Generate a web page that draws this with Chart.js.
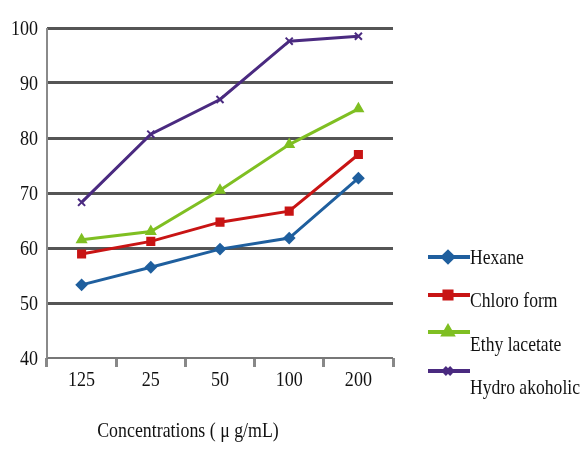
<!DOCTYPE html>
<html><head><meta charset="utf-8">
<script src="https://cdn.jsdelivr.net/npm/chart.js@4/dist/chart.umd.min.js"></script>
<style>html,body{margin:0;padding:0;background:#fff}#wrap{width:586px;height:449px}</style>
</head><body><div id="wrap"><canvas id="c" width="586" height="449"></canvas></div>
<script>
const categories = ["125", "25", "50", "100", "200"];
const hexane = [53.3, 56.5, 59.8, 61.8, 72.7];
const chloroform = [58.9, 61.2, 64.7, 66.7, 77.0];
const ethylAcetate = [61.5, 63.0, 70.5, 78.8, 85.3];
const hydroAlcoholic = [68.3, 80.7, 87.0, 97.6, 98.5];
const seriesNames = ["Hexane", "Chloro form", "Ethy lacetate", "Hydro akoholic"];
const yTicks = [40, 50, 60, 70, 80, 90, 100];
const xTitle = "Concentrations ( \u03bc g/mL)";

const colors = ["#1f5f9e", "#c81414", "#7fbf22", "#4a2a80"];
const markers = ["rectRot", "rect", "triangle", "crossRot"];
const values = [hexane, chloroform, ethylAcetate, hydroAlcoholic];
const FONT = '"Liberation Serif", "DejaVu Serif", serif';

function condText(ctx, txt, x, y, size, align, sx) {
  ctx.save();
  ctx.fillStyle = '#111';
  ctx.font = size + 'px ' + FONT;
  ctx.textBaseline = 'middle';
  ctx.textAlign = align;
  ctx.translate(x, y);
  ctx.scale(sx, 1);
  ctx.fillText(txt, 0, 0);
  ctx.restore();
}

const textPlugin = {
  id: 'texts',
  afterDraw(chart) {
    const ctx = chart.ctx;
    const xs = chart.scales.x, ys = chart.scales.y;
    // y tick labels
    ys.ticks.forEach(t => condText(ctx, String(t.value), 38, ys.getPixelForValue(t.value) + 1, 22, 'right', 0.82));
    // x tick labels
    categories.forEach((c, i) => condText(ctx, c, xs.getPixelForValue(i), 380, 22, 'center', 0.82));
    // axis title
    condText(ctx, xTitle, 188, 431, 21, 'center', 0.85);
    // legend
    const lineY = [257, 295, 332, 371];
    const textY = [258, 301, 345, 388];
    chart.data.datasets.forEach((ds, i) => {
      ctx.save();
      ctx.strokeStyle = ds.borderColor;
      ctx.lineWidth = 4;
      ctx.beginPath(); ctx.moveTo(428, lineY[i]); ctx.lineTo(470, lineY[i]); ctx.stroke();
      ctx.fillStyle = ds.borderColor;
      Chart.helpers.drawPoint(ctx, {pointStyle: ds.pointStyle, radius: 5, borderWidth: 2}, 448, lineY[i]);
      ctx.restore();
      condText(ctx, ds.label, 470, textY[i], 22, 'left', 0.8);
    });
  }
};

const yAxisLine = {
  id: 'yAxisLine',
  beforeDatasetsDraw(chart) {
    const {ctx, chartArea} = chart;
    ctx.save();
    ctx.strokeStyle = '#8a8a8a';
    ctx.lineWidth = 2;
    ctx.beginPath(); ctx.moveTo(chartArea.left, chartArea.top); ctx.lineTo(chartArea.left, chartArea.bottom); ctx.stroke();
    ctx.restore();
  }
};

new Chart(document.getElementById('c'), {
  type: 'line',
  data: {
    labels: categories,
    datasets: values.map((v, i) => ({
      label: seriesNames[i],
      data: v,
      borderColor: colors[i],
      backgroundColor: colors[i],
      borderWidth: 3,
      pointStyle: markers[i],
      pointRadius: 5,
      pointBorderWidth: 2,
      tension: 0
    }))
  },
  options: {
    responsive: false,
    animation: false,
    devicePixelRatio: 1,
    layout: {padding: {top: 28, right: 193, left: 0, bottom: 0}},
    plugins: {legend: {display: false}, tooltip: {enabled: false}},
    scales: {
      x: {
        offset: true,
        grid: {display: true, drawOnChartArea: false, drawTicks: true, tickLength: 9, color: '#888', lineWidth: 3, offset: true},
        border: {display: false},
        ticks: {display: false},
        afterFit(s) { s.height = 91; }
      },
      y: {
        min: 40, max: 100,
        afterBuildTicks(s) { s.ticks = yTicks.map(v => ({value: v})); },
        grid: {color: (c) => c.tick && c.tick.value === 40 ? '#777' : '#555', lineWidth: (c) => c.tick && c.tick.value === 40 ? 2 : 3, drawTicks: false},
        border: {display: false},
        ticks: {display: false},
        afterFit(s) { s.width = 47; }
      }
    }
  },
  plugins: [yAxisLine, textPlugin]
});
</script>
</body></html>
